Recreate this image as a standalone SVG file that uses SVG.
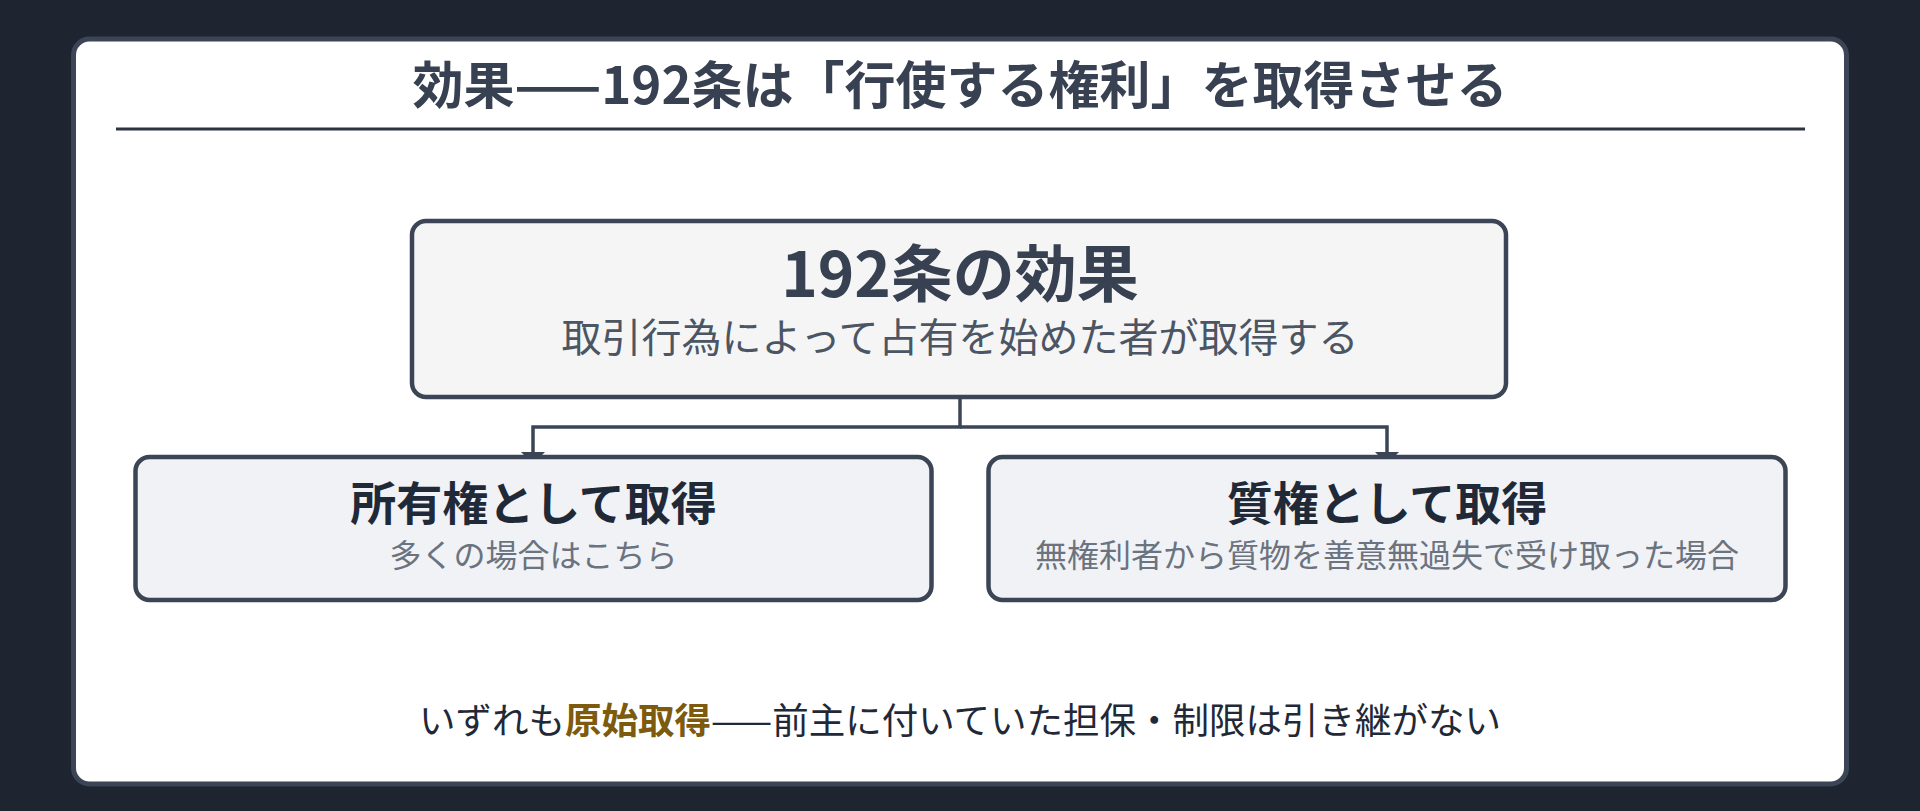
<svg xmlns="http://www.w3.org/2000/svg" width="1920" height="811" viewBox="0 0 1920 811">
  <defs>
    <style>
      text { font-family: "Noto Sans CJK JP", "Noto Sans", sans-serif; text-anchor: middle; }
      .title { font-size: 51px; font-weight: 700; fill: #374151; }
      .node { stroke: #3b4555; stroke-width: 4.5; }
      .main-title { font-size: 62px; font-weight: 700; fill: #374151; }
      .main-sub { font-size: 40px; font-weight: 400; fill: #4b5563; }
      .child-title { font-size: 46px; font-weight: 700; fill: #1f2937; }
      .child-sub { font-size: 32px; font-weight: 400; fill: #6b7280; }
      .note { font-size: 36.5px; font-weight: 400; fill: #1f2937; }
      .accent { font-weight: 700; fill: #7d5a0d; }
      .conn { fill: none; stroke: #3b4555; stroke-width: 3.5; }
    </style>
    <marker id="arrow" viewBox="0 0 12 24" refX="0" refY="12" markerWidth="12" markerHeight="24" orient="auto" markerUnits="userSpaceOnUse">
      <path d="M0,0 L12,12 L0,24 Z" fill="#3b4555"/>
    </marker>
  </defs>

  <rect x="0" y="0" width="1920" height="811" fill="#1e2530"/>

  <g id="card">
    <rect x="73.5" y="39" width="1773" height="745" rx="16" fill="#ffffff" stroke="#3b4555" stroke-width="5"/>
    <text class="title" x="960" y="104">効果——192条は「行使する権利」を取得させる</text>
    <line x1="116" y1="129" x2="1805" y2="129" stroke="#2d3441" stroke-width="3"/>
  </g>

  <g id="connectors">
    <path class="conn" d="M960,399 V427 H533 V452" marker-end="url(#arrow)"/>
    <path class="conn" d="M960,427 H1387 V452" marker-end="url(#arrow)"/>
  </g>

  <g id="node-effect">
    <rect class="node" x="412" y="221" width="1094" height="176" rx="14" fill="#f5f5f5"/>
    <text class="main-title" x="960" y="297">192条の効果</text>
    <text class="main-sub" x="960" y="352">取引行為によって占有を始めた者が取得する</text>
  </g>

  <g id="node-ownership">
    <rect class="node" x="135.5" y="457" width="796" height="143" rx="14" fill="#f0f2f5"/>
    <text class="child-title" x="533.5" y="520">所有権として取得</text>
    <text class="child-sub" x="533.5" y="567">多くの場合はこちら</text>
  </g>

  <g id="node-pledge">
    <rect class="node" x="988.5" y="457" width="797" height="143" rx="14" fill="#f0f2f5"/>
    <text class="child-title" x="1387" y="520">質権として取得</text>
    <text class="child-sub" x="1387" y="567">無権利者から質物を善意無過失で受け取った場合</text>
  </g>

  <g id="note">
    <text class="note" x="960" y="734">いずれも<tspan class="accent">原始取得</tspan>——前主に付いていた担保・制限は引き継がない</text>
  </g>
</svg>
